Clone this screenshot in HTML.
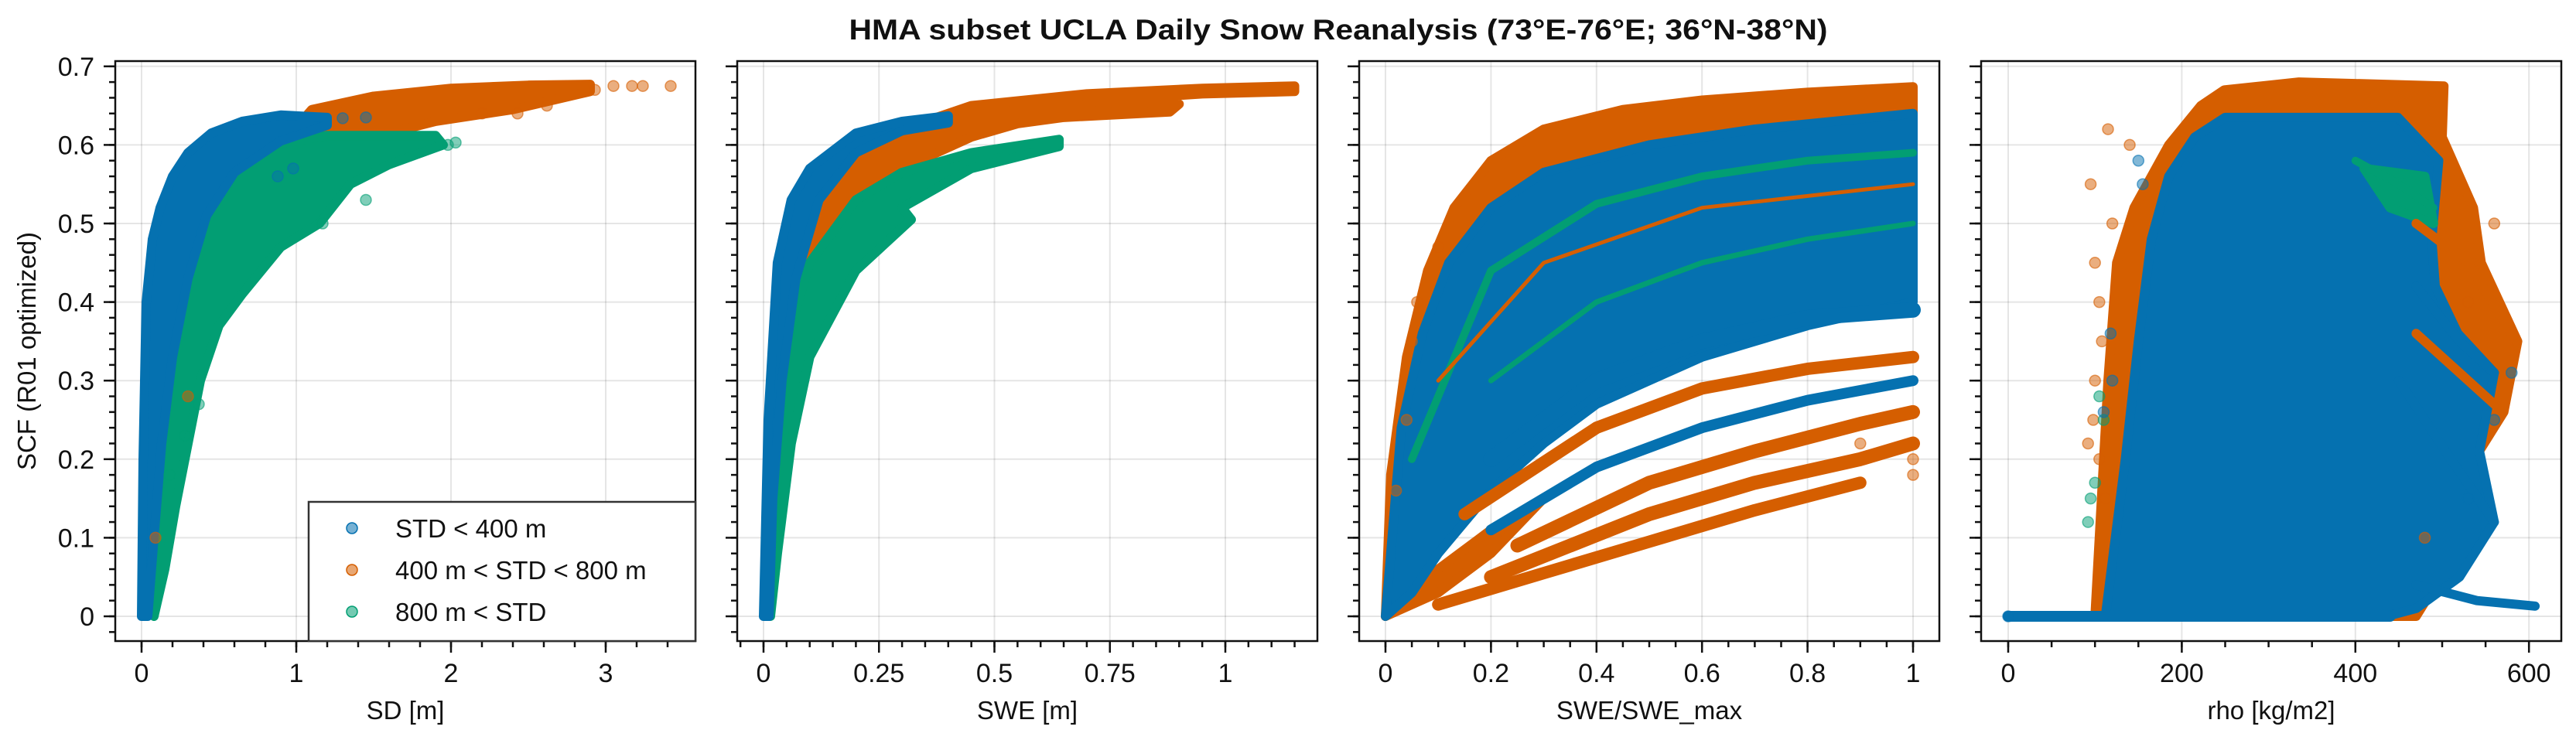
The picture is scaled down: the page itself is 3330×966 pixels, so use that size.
<!DOCTYPE html>
<html><head><meta charset="utf-8"><style>
body{margin:0;background:#fff}
svg text{font-family:"Liberation Sans",sans-serif;fill:#111}
</style></head><body>
<svg id="fig" xmlns="http://www.w3.org/2000/svg" width="3330" height="961" viewBox="0 0 3330 961">
<text x="1730" y="51" text-anchor="middle" font-size="37" font-weight="bold" textLength="1265" lengthAdjust="spacingAndGlyphs">HMA subset UCLA Daily Snow Reanalysis (73°E-76°E; 36°N-38°N)</text>
<text transform="translate(46,454) rotate(-90)" text-anchor="middle" font-size="33">SCF (R01 optimized)</text>
<g id="plots"></g>
</svg>
<script>
const C={blue:'#0571b0',orange:'#d55e00',green:'#029e73'};
const yTicks=[0,0.1,0.2,0.3,0.4,0.5,0.6,0.7];
const yTickLabels=['0','0.1','0.2','0.3','0.4','0.5','0.6','0.7'];
// panel 1 (SD)
const p1Ticks=[0,1,2,3];const p1Labels=['0','1','2','3'];
const p1Orange=[[0.9,0.6],[1.1,0.645],[1.5,0.662],[2,0.672],[2.5,0.676],[2.9,0.677],[2.9,0.668],[2.4,0.645],[1.9,0.63],[1.3,0.6]];
const p1Blue=[[0,0],[0.01,0.2],[0.03,0.4],[0.07,0.48],[0.12,0.52],[0.2,0.56],[0.3,0.59],[0.45,0.615],[0.65,0.63],[0.9,0.638],[1.2,0.635],[1.2,0.625],[0.9,0.605],[0.6,0.565],[0.42,0.51],[0.3,0.43],[0.2,0.33],[0.13,0.22],[0.08,0.1],[0.04,0]];
const p1Green=[[0.04,0.05],[0.12,0.25],[0.25,0.42],[0.4,0.52],[0.6,0.57],[0.85,0.6],[1.2,0.612],[1.9,0.612],[1.95,0.6],[1.6,0.575],[1.35,0.55],[1.15,0.5],[0.9,0.47],[0.65,0.41],[0.5,0.37],[0.38,0.3],[0.3,0.22],[0.22,0.14],[0.15,0.06],[0.08,0]];
const p1OrangeDots=[[3.05,0.675],[3.17,0.675],[3.24,0.675],[3.42,0.675],[2.93,0.67],[2.62,0.65],[2.43,0.64],[2.2,0.64],[0.3,0.28],[0.09,0.1]];
const p1BlueDots=[[1.45,0.635],[1.3,0.634],[0.88,0.56],[0.98,0.57]];
const p1GreenDots=[[1.98,0.6],[2.03,0.603],[1.45,0.53],[1.17,0.5],[0.37,0.27],[0.28,0.23],[0.18,0.18]];
// panel 2 (SWE)
const p2Ticks=[0,0.25,0.5,0.75,1];const p2Labels=['0','0.25','0.5','0.75','1'];
const p2Orange=[[0.05,0.3],[0.1,0.5],[0.2,0.58],[0.3,0.62],[0.45,0.65],[0.7,0.665],[0.95,0.672],[1.15,0.675],[1.15,0.668],[0.95,0.665],[0.7,0.655],[0.9,0.652],[0.88,0.642],[0.65,0.635],[0.55,0.627],[0.45,0.61],[0.3,0.57],[0.2,0.52],[0.12,0.45],[0.07,0.35]];
const p2Blue=[[0,0],[0.01,0.25],[0.03,0.45],[0.06,0.53],[0.1,0.57],[0.2,0.615],[0.3,0.63],[0.4,0.637],[0.4,0.628],[0.3,0.618],[0.2,0.59],[0.12,0.53],[0.07,0.43],[0.04,0.3],[0.02,0.15],[0.012,0]];
const p2Green=[[0.02,0.18],[0.05,0.35],[0.1,0.45],[0.2,0.53],[0.3,0.565],[0.45,0.59],[0.64,0.607],[0.64,0.598],[0.45,0.57],[0.3,0.52],[0.32,0.505],[0.2,0.44],[0.1,0.33],[0.06,0.22],[0.03,0.08],[0.015,0]];
// panel 3 (SWE/SWE_max)
const p3Ticks=[0,0.2,0.4,0.6,0.8,1];const p3Labels=['0','0.2','0.4','0.6','0.8','1'];
const p3OrangeTop=[[0,0],[0.01,0.18],[0.04,0.33],[0.08,0.44],[0.13,0.52],[0.2,0.58],[0.3,0.62],[0.45,0.645],[0.6,0.657],[0.8,0.667],[1,0.674],[1,0.63],[0.6,0.61],[0.3,0.55],[0.1,0.3],[0.03,0.05]];
const p3Blue=[[0,0],[0.03,0.24],[0.07,0.36],[0.12,0.45],[0.2,0.52],[0.3,0.565],[0.5,0.6],[0.7,0.62],[1,0.64],[1,0.4],[0.8,0.37],[0.6,0.33],[0.4,0.27],[0.3,0.22],[0.2,0.16],[0.1,0.08],[0.05,0.03]];
const p3OrangeBase=[[0,0],[0.1,0.06],[0.2,0.11],[0.3,0.15],[0.2,0.08],[0.1,0.03]];
const p3Stripes=[
 {c:'blue',w:20,pts:[[0.2,0.2],[0.4,0.3],[0.6,0.35],[0.8,0.38],[1,0.39]]},
 {c:'orange',w:16,pts:[[0.15,0.13],[0.4,0.24],[0.6,0.29],[0.8,0.315],[1,0.33]]},
 {c:'blue',w:14,pts:[[0.2,0.11],[0.4,0.19],[0.6,0.24],[0.8,0.275],[1,0.3]]},
 {c:'orange',w:18,pts:[[0.25,0.09],[0.5,0.17],[0.7,0.21],[0.9,0.245],[1,0.26]]},
 {c:'orange',w:18,pts:[[0.2,0.05],[0.5,0.13],[0.7,0.17],[0.9,0.2],[1,0.22]]},
 {c:'orange',w:16,pts:[[0.1,0.015],[0.3,0.055],[0.5,0.095],[0.7,0.135],[0.9,0.17]]},
 {c:'green',w:10,pts:[[0.05,0.2],[0.2,0.44],[0.4,0.525],[0.6,0.56],[0.8,0.58],[1,0.59]]},
 {c:'green',w:7,pts:[[0.2,0.3],[0.4,0.4],[0.6,0.45],[0.8,0.48],[1,0.5]]},
 {c:'orange',w:5,pts:[[0.1,0.3],[0.3,0.45],[0.6,0.52],[1,0.55]]}
];
const p3OrangeDots=[[0.05,0.35],[0.06,0.4],[0.1,0.47],[0.04,0.25],[0.02,0.16],[0.9,0.22],[1,0.18],[1,0.2]];
// panel 4 (rho)
const p4Ticks=[0,200,400,600];const p4Labels=['0','200','400','600'];
const p4Orange=[[100,0],[110,0.2],[115,0.3],[125,0.45],[145,0.52],[185,0.6],[222,0.65],[249,0.67],[335,0.68],[502,0.675],[500,0.61],[536,0.52],[545,0.45],[587,0.35],[571,0.26],[537,0.2],[498,0.05],[470,0]];
const p4Blue=[[112,0],[135,0.2],[150,0.35],[165,0.48],[185,0.56],[215,0.61],[250,0.635],[449,0.635],[496,0.58],[488,0.48],[492,0.42],[518,0.36],[560,0.31],[543,0.21],[560,0.12],[520,0.05],[470,0.01],[436,0]];
const p4Floor=[[0,0],[440,0]];
const p4Tail=[[470,0.04],[540,0.02],[607,0.013]];
const p4Streaks=[
 {c:'orange',w:12,pts:[[470,0.5],[530,0.45],[585,0.35]]},
 {c:'orange',w:12,pts:[[470,0.36],[530,0.3],[570,0.26]]},
 {c:'blue',w:12,pts:[[470,0.42],[520,0.35],[560,0.31]]},
 {c:'blue',w:12,pts:[[450,0.3],[510,0.2],[560,0.12]]},
 {c:'green',w:10,pts:[[400,0.58],[450,0.55],[490,0.52]]}
];
const p4Green=[[410,0.57],[480,0.56],[490,0.5],[440,0.52]];
const p4OrangeDots=[[100,0.45],[105,0.4],[95,0.55],[115,0.62],[105,0.2],[100,0.3],[112,0.15],[140,0.6],[530,0.4],[560,0.5],[480,0.1],[98,0.25],[108,0.35],[120,0.5],[92,0.22]];
const p4BlueDots=[[150,0.58],[155,0.55],[120,0.3],[560,0.25],[580,0.31],[530,0.15],[0,0],[110,0.26],[118,0.36]];
const p4GreenDots=[[95,0.15],[105,0.28],[110,0.25],[100,0.17],[92,0.12]];

const NS='http://www.w3.org/2000/svg';
const root=document.getElementById('plots');
function mk(tag,attrs,parent){const e=document.createElementNS(NS,tag);for(const k in attrs)e.setAttribute(k,attrs[k]);(parent||root).appendChild(e);return e;}
const Y0=797,YU=1016,PT=79,PB=829,PW=750;
function yS(v){return Y0-v*YU;}
function panel(name,left,x0px,xunit,ticks,labels,minorStep,xlabel,showY){
  const xS=v=>x0px+v*xunit;
  const g=mk('g',{});
  
  
  const xmin=(left-x0px)/xunit,xmax=(left+PW-x0px)/xunit;
  const clip=mk('clipPath',{id:'clip-'+name},g);
  mk('rect',{x:left,y:PT,width:PW,height:PB-PT},clip);
  const grid=mk('g',{stroke:'#000','stroke-opacity':0.1,'stroke-width':2},g);
  
  yTicks.forEach(v=>mk('line',{x1:left,x2:left+PW,y1:yS(v),y2:yS(v)},grid));
  ticks.forEach(v=>mk('line',{x1:xS(v),x2:xS(v),y1:PT,y2:PB},grid));
  const data=mk('g',{'clip-path':'url(#clip-'+name+')'},g);
  
  const ax=mk('g',{stroke:'#111','stroke-width':2.5},g);
  
  mk('rect',{x:left,y:PT,width:PW,height:PB-PT,fill:'none'},ax);
  yTicks.forEach(v=>mk('line',{x1:left-15,x2:left,y1:yS(v),y2:yS(v)},ax));
  for(let v=-0.02;v<=0.7001;v+=0.02){mk('line',{x1:left-8,x2:left,y1:yS(v),y2:yS(v)},ax);}
  ticks.forEach(v=>mk('line',{x1:xS(v),x2:xS(v),y1:PB,y2:PB+15},ax));
  for(let v=Math.ceil(xmin/minorStep)*minorStep;v<=xmax;v+=minorStep){mk('line',{x1:xS(v),x2:xS(v),y1:PB,y2:PB+8},ax);}
  ticks.forEach((v,i)=>{const t=mk('text',{x:xS(v),y:882,'text-anchor':'middle','font-size':34},g);t.textContent=labels[i];
    });
  if(showY) yTicks.forEach((v,i)=>{const t=mk('text',{x:122,y:yS(v)+12,'text-anchor':'end','font-size':34},g);t.textContent=yTickLabels[i];
    });
  const xl=mk('text',{x:left+PW/2,y:930,'text-anchor':'middle','font-size':33},g);xl.textContent=xlabel;
  
  return {
    poly(pts,col,nm){const p=mk('polygon',{points:pts.map(q=>xS(q[0])+','+yS(q[1])).join(' '),fill:C[col],stroke:C[col],'stroke-width':12,'stroke-linejoin':'round'},data);
      },
    line(pts,col,w,nm){const p=mk('polyline',{points:pts.map(q=>xS(q[0])+','+yS(q[1])).join(' '),fill:'none',stroke:C[col],'stroke-width':w,'stroke-linecap':'round','stroke-linejoin':'round'},data);
      },
    dots(pts,col,nm){pts.forEach(q=>{const c=mk('circle',{cx:xS(q[0]),cy:yS(q[1]),r:7,fill:C[col],'fill-opacity':0.5,stroke:C[col],'stroke-opacity':0.6,'stroke-width':1.5},data);
      });}
  };
}
const a=panel('panel-sd',149,183,200,p1Ticks,p1Labels,0.2,'SD [m]',true);
a.poly(p1Orange,'orange','orange-cloud');a.poly(p1Green,'green','green-cloud');a.poly(p1Blue,'blue','blue-cloud');
a.dots(p1OrangeDots,'orange','orange-point');a.dots(p1GreenDots,'green','green-point');a.dots(p1BlueDots,'blue','blue-point');
const b=panel('panel-swe',953,987,597,p2Ticks,p2Labels,0.05,'SWE [m]',false);
b.poly(p2Orange,'orange','orange-cloud');b.poly(p2Green,'green','green-cloud');b.poly(p2Blue,'blue','blue-cloud');
const c=panel('panel-swe-ratio',1757,1791,682,p3Ticks,p3Labels,0.05,'SWE/SWE_max',false);
c.poly(p3OrangeTop,'orange','orange-cloud');c.poly(p3OrangeBase,'orange','orange-cloud');c.poly(p3Blue,'blue','blue-cloud');
p3Stripes.forEach(s=>c.line(s.pts,s.c,s.w,s.c+'-stripe'));
c.dots(p3OrangeDots,'orange','orange-point');
const d=panel('panel-rho',2561,2596,1.122,p4Ticks,p4Labels,50,'rho [kg/m2]',false);
d.poly(p4Orange,'orange','orange-cloud');d.poly(p4Blue,'blue','blue-cloud');d.poly(p4Green,'green','green-cloud');
p4Streaks.forEach(s=>d.line(s.pts,s.c,s.w,s.c+'-streak'));
d.line(p4Floor,'blue',14,'blue-floor');d.line(p4Tail,'blue',12,'blue-tail');
d.dots(p4OrangeDots,'orange','orange-point');d.dots(p4GreenDots,'green','green-point');d.dots(p4BlueDots,'blue','blue-point');

const legendLabels=['STD < 400 m','400 m < STD < 800 m','800 m < STD'];
const legendColors=['blue','orange','green'];
const lg=mk('g',{});

mk('rect',{x:399,y:649,width:500,height:180,fill:'#fff',stroke:'#333','stroke-width':2.5},lg);
legendLabels.forEach((l,i)=>{const y=683+i*54;
  const e=mk('g',{},lg);
  mk('circle',{cx:455,cy:y,r:7,fill:C[legendColors[i]],'fill-opacity':0.55,stroke:C[legendColors[i]],'stroke-width':1.5},e);
  const t=mk('text',{x:511,y:y+12,'font-size':33},e);t.textContent=l;});
</script>
</body></html>
